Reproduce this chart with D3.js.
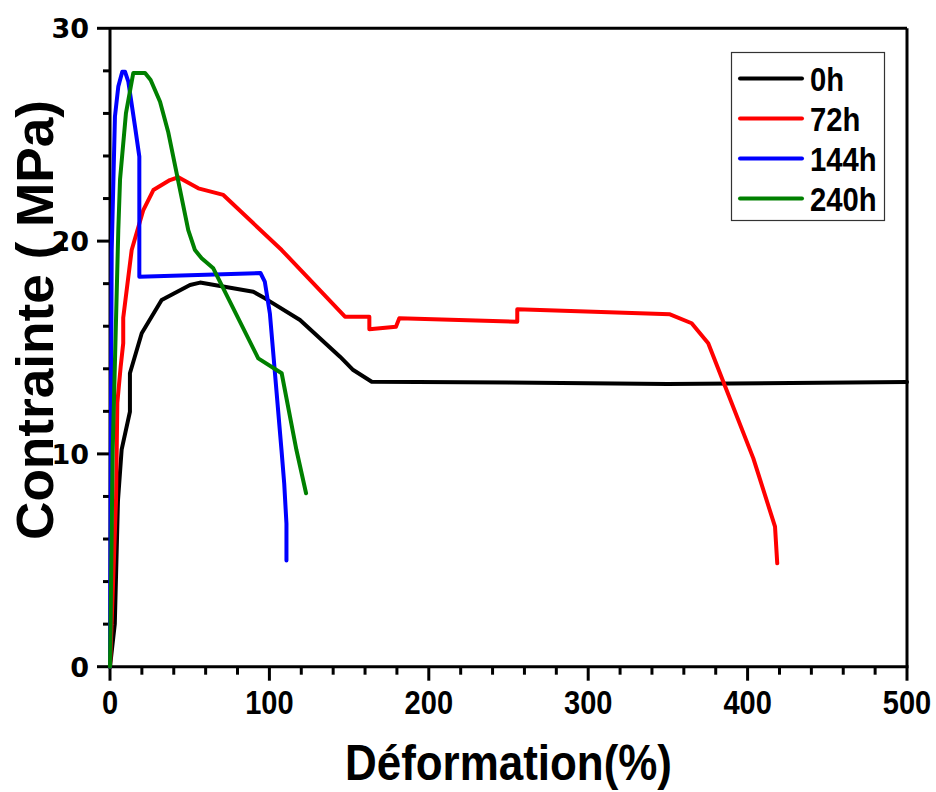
<!DOCTYPE html>
<html>
<head>
<meta charset="utf-8">
<script src="https://cdn.jsdelivr.net/npm/d3@7"></script>
<style>
  html, body { margin: 0; padding: 0; background: #fff; }
  svg { display: block; }
</style>
</head>
<body>
<svg id="chart" width="936" height="792"></svg>
<script>
// ---- Data ----
const seriesNames = ["0h", "72h", "144h", "240h"];
const seriesColors = ["#000000", "#ff0000", "#0000ff", "#008000"];

const strain0h = [0, 3, 5, 7.3, 12.5, 12.5, 19.9, 32.4, 50.2, 56.5, 89.9, 97.2, 119.2, 144.3, 152.6, 164.2, 250, 350, 500];
const stress0h = [0, 2, 7.8, 10.2, 11.98, 13.79, 15.67, 17.23, 17.94, 18.05, 17.62, 17.31, 16.29, 14.57, 13.94, 13.39, 13.35, 13.28, 13.38];

const strain72h = [0, 2, 3.8, 4.6, 6.7, 8.3, 8.3, 13.6, 20.9, 27.2, 37.6, 42.9, 55.4, 71.1, 107.7, 147.4, 162.7, 162.7, 179.4, 181.5, 255.5, 255.5, 351.3, 364.9, 375.3, 386, 403.6, 417.2, 418.6];
const stress72h = [0, 4.1, 7.9, 12.4, 14.1, 15.2, 16.4, 19.58, 21.46, 22.4, 22.87, 23.0, 22.48, 22.17, 19.58, 16.45, 16.45, 15.86, 15.98, 16.37, 16.21, 16.8, 16.56, 16.14, 15.2, 13.16, 9.79, 6.58, 4.86];

const strain144h = [0, 0.5, 1.07, 3.1, 5.2, 7.7, 9.4, 11.5, 15.7, 18.4, 18.4, 94.4, 97.1, 100.3, 107.6, 109.3, 110.7, 110.7];
const stress144h = [0, 10, 19.58, 25.85, 27.26, 27.96, 27.96, 27.49, 25.38, 23.97, 18.33, 18.5, 18.1, 16.6, 10.17, 8.6, 6.72, 4.99];

const strain240h = [0, 1.7, 5.2, 6.3, 10, 14.6, 22, 25.5, 31.4, 36.6, 49.1, 53.3, 57.5, 64.8, 93.0, 107.7, 117, 123];
const stress240h = [0, 10.2, 20.5, 22.9, 26.0, 27.9, 27.9, 27.57, 26.55, 25.1, 20.52, 19.58, 19.19, 18.72, 14.49, 13.79, 10.17, 8.15];

const xTicks = [0, 100, 200, 300, 400, 500];
const yTicks = [0, 10, 20, 30];
const xTitle = "Déformation(%)";
const yTitle = "Contrainte ( MPa)";

const strains = [strain0h, strain72h, strain144h, strain240h];
const stresses = [stress0h, stress72h, stress144h, stress240h];

// ---- Layout ----
const svg = d3.select("#chart");
const pL = 110, pR = 907, pT = 28.3, pB = 666.7;

const x = d3.scaleLinear().domain([0, 500]).range([pL, pR]);
const y = d3.scaleLinear().domain([0, 30]).range([pB, pT]);

// frame (top & right)
svg.append("line").attr("x1", pL).attr("x2", pR).attr("y1", pT).attr("y2", pT)
  .attr("stroke", "#000").attr("stroke-width", 3);
svg.append("line").attr("x1", pR).attr("x2", pR).attr("y1", pT).attr("y2", pB)
  .attr("stroke", "#000").attr("stroke-width", 3);

// minor ticks
const xMinor = d3.range(0, 501, 20).filter(v => v % 100 !== 0);
const yMinor = d3.range(0, 31, 2).filter(v => v % 10 !== 0);

const gx = svg.append("g");
gx.selectAll("line.minor").data(xMinor).join("line")
  .attr("class", "minor")
  .attr("x1", d => x(d)).attr("x2", d => x(d)).attr("y1", pB).attr("y2", pB + 8)
  .attr("stroke", "#000").attr("stroke-width", 3);
gx.selectAll("line.major").data(xTicks).join("line")
  .attr("class", "major")
  .attr("x1", d => x(d)).attr("x2", d => x(d)).attr("y1", pB).attr("y2", pB + 14)
  .attr("stroke", "#000").attr("stroke-width", 3);

const gy = svg.append("g");
gy.selectAll("line.minor").data(yMinor).join("line")
  .attr("class", "minor")
  .attr("x1", pL - 7).attr("x2", pL).attr("y1", d => y(d)).attr("y2", d => y(d))
  .attr("stroke", "#000").attr("stroke-width", 3);
gy.selectAll("line.major").data(yTicks).join("line")
  .attr("class", "major")
  .attr("x1", pL - 13).attr("x2", pL).attr("y1", d => y(d)).attr("y2", d => y(d))
  .attr("stroke", "#000").attr("stroke-width", 3);

// axis lines
svg.append("line").attr("x1", pL).attr("x2", pL).attr("y1", pT).attr("y2", pB + 1.5)
  .attr("stroke", "#000").attr("stroke-width", 3);
svg.append("line").attr("x1", pL - 1.5).attr("x2", pR + 1.5).attr("y1", pB).attr("y2", pB)
  .attr("stroke", "#000").attr("stroke-width", 3);

// x tick labels (condensed bold)
svg.append("g").selectAll("text").data(xTicks).join("text")
  .attr("transform", d => `translate(${x(d)},714) scale(0.88,1)`)
  .attr("text-anchor", "middle")
  .attr("font-family", "Liberation Sans, Arial, sans-serif")
  .attr("font-weight", "bold").attr("font-size", 33)
  .text(d => d);

// y tick labels
svg.append("g").selectAll("text").data(yTicks).join("text")
  .attr("x", 89).attr("y", d => y(d) + 10)
  .attr("text-anchor", "end")
  .attr("font-family", "DejaVu Sans, sans-serif")
  .attr("font-weight", "bold").attr("font-size", 27)
  .text(d => d);

// axis titles
svg.append("text")
  .attr("x", 345).attr("y", 780)
  .attr("textLength", 327).attr("lengthAdjust", "spacingAndGlyphs")
  .attr("font-family", "Liberation Sans, Arial, sans-serif")
  .attr("font-weight", "bold").attr("font-size", 50)
  .text(xTitle);

svg.append("text")
  .attr("transform", "translate(53,540) rotate(-90)")
  .attr("textLength", 440).attr("lengthAdjust", "spacingAndGlyphs")
  .attr("font-family", "Liberation Sans, Arial, sans-serif")
  .attr("font-weight", "bold").attr("font-size", 51)
  .text(yTitle);

// curves
const line = d3.line().x(d => x(d[0])).y(d => y(d[1]));
const gl = svg.append("g");
seriesNames.forEach((name, i) => {
  const pts = strains[i].map((s, k) => [s, stresses[i][k]]);
  gl.append("path")
    .attr("d", line(pts))
    .attr("fill", "none")
    .attr("stroke", seriesColors[i])
    .attr("stroke-width", 4)
    .attr("stroke-linejoin", "round")
    .attr("stroke-linecap", "round");
});

// legend
const lg = svg.append("g");
lg.append("rect").attr("x", 731.5).attr("y", 52.5).attr("width", 153).attr("height", 168)
  .attr("fill", "#fff").attr("stroke", "#333").attr("stroke-width", 1.2);
seriesNames.forEach((name, i) => {
  const ly = 78.5 + i * 40;
  lg.append("line").attr("x1", 740).attr("x2", 802).attr("y1", ly).attr("y2", ly)
    .attr("stroke", seriesColors[i]).attr("stroke-width", 4).attr("stroke-linecap", "round");
  lg.append("text")
    .attr("transform", `translate(810,${ly + 12}) scale(0.86,1)`)
    .attr("font-family", "Liberation Sans, Arial, sans-serif")
    .attr("font-weight", "bold").attr("font-size", 34)
    .text(name);
});
</script>
</body>
</html>
